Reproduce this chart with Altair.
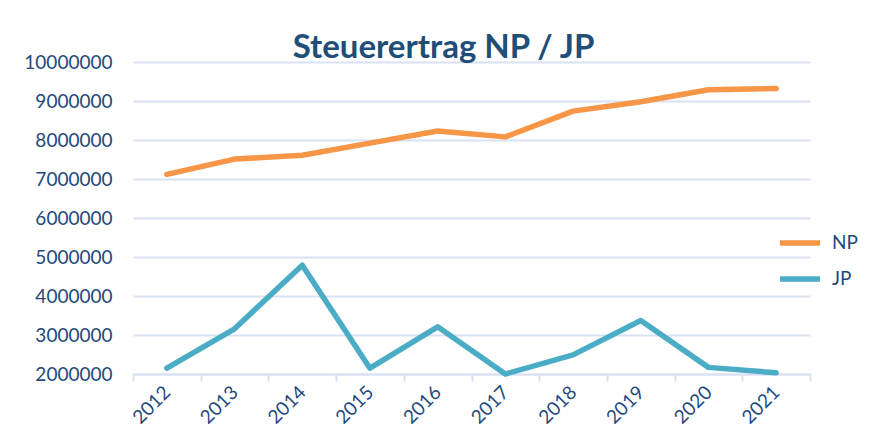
import altair as alt
import pandas as pd

years = ["2012", "2013", "2014", "2015", "2016", "2017", "2018", "2019", "2020", "2021"]
np_values = [7120000, 7510000, 7610000, 7920000, 8230000, 8080000, 8740000, 8980000, 9290000, 9320000]
jp_values = [2150000, 3160000, 4790000, 2150000, 3210000, 2000000, 2490000, 3370000, 2170000, 2030000]
series = ["NP", "JP"]
colors = ["#F79646", "#4BACC6"]
y_ticks = [2000000, 3000000, 4000000, 5000000, 6000000, 7000000, 8000000, 9000000, 10000000]

rows = []
for s, vals in zip(series, [np_values, jp_values]):
    for yr, v in zip(years, vals):
        rows.append({"Jahr": yr, "Wert": v, "Serie": s})
df = pd.DataFrame(rows)

FONT = "Lato"
TXT = "#1F497D"
GRID = "#D9E2F3"

chart = alt.Chart(df).mark_line(strokeWidth=5.5, strokeCap="round", strokeJoin="round").encode(
    x=alt.X("Jahr:O", bandPosition=0.5,
            scale=alt.Scale(type="band", paddingInner=0, paddingOuter=0),
            axis=alt.Axis(title=None, labelAngle=-45, labelAlign="right", labelBaseline="middle",
                          labelFont=FONT, labelFontSize=19, labelColor=TXT, labelPadding=8,
                          tickBand="extent", ticks=True, tickSize=7, tickColor=GRID, tickWidth=2,
                          domainColor=GRID, domainWidth=2, grid=False)),
    y=alt.Y("Wert:Q",
            scale=alt.Scale(domain=[2000000, 10000000], nice=False, zero=False),
            axis=alt.Axis(title=None, values=y_ticks, format="d", labelFont=FONT, labelFontSize=19,
                          labelColor=TXT, labelPadding=21, ticks=False, tickSize=0, domain=False,
                          grid=True, gridColor=GRID, gridWidth=2)),
    color=alt.Color("Serie:N", sort=series,
                    scale=alt.Scale(domain=series, range=colors),
                    legend=alt.Legend(title=None, orient="none", legendX=644, legendY=158,
                                      symbolType="stroke", symbolSize=1600, symbolStrokeWidth=5.5,
                                      labelFont=FONT, labelFontSize=19, labelColor=TXT,
                                      labelOffset=9, rowPadding=2, padding=0)),
).properties(
    width=677,
    height=312,
    autosize=alt.AutoSizeParams(type="none"),
    padding={"left": 125, "top": 54, "right": 61, "bottom": 58},
    title=alt.TitleParams("Steuerertrag NP / JP", font=FONT, fontSize=33, fontWeight="bold",
                          color="#1F4E79", anchor="middle", dx=-28, dy=16),
).configure_view(stroke=None)

chart.save("out.html", embed_options={"renderer": "svg", "actions": False})
